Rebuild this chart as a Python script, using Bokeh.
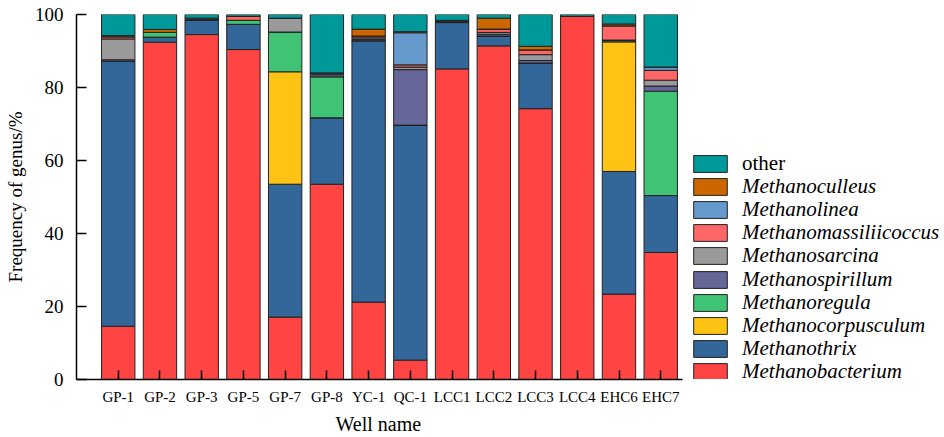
from bokeh.plotting import figure
from bokeh.models import ColumnDataSource, Range1d, FixedTicker, Legend, LegendItem, Title
from bokeh.embed import file_html
from bokeh.resources import INLINE

# Wells (x categories)
wells = ["GP-1", "GP-2", "GP-3", "GP-5", "GP-7", "GP-8", "YC-1", "QC-1",
         "LCC1", "LCC2", "LCC3", "LCC4", "EHC6", "EHC7"]

# Relative abundance of each genus per well (%), stacked bottom -> top
methanobacterium = [14.6, 92.4, 94.5, 90.4, 17.1, 53.5, 21.2, 5.3, 85.1, 91.4, 74.2, 99.5, 23.4, 34.8]
methanothrix = [72.6, 1.4, 4.1, 6.9, 36.4, 18.2, 71.6, 64.4, 12.7, 2.7, 12.5, 0.0, 33.6, 15.6]
methanocorpusculum = [0.0, 0.0, 0.0, 0.0, 30.8, 0.0, 0.0, 0.0, 0.0, 0.0, 0.0, 0.0, 35.5, 0.0]
methanoregula = [0.0, 1.3, 0.0, 1.1, 10.9, 11.2, 0.0, 0.0, 0.0, 0.0, 0.0, 0.0, 0.3, 28.6]
methanospirillum = [0.4, 0.0, 0.0, 0.0, 0.0, 0.6, 0.4, 15.2, 0.3, 0.5, 0.7, 0.0, 0.2, 1.4]
methanosarcina = [5.7, 0.0, 0.0, 0.0, 3.8, 0.5, 0.4, 0.7, 0.3, 0.5, 1.6, 0.0, 0.0, 1.6]
methanomassiliicoccus = [0.6, 0.0, 0.0, 1.1, 0.0, 0.0, 0.5, 0.6, 0.0, 0.9, 1.3, 0.0, 3.9, 2.7]
methanolinea = [0.0, 0.0, 0.0, 0.0, 0.0, 0.0, 0.0, 8.8, 0.0, 0.0, 0.0, 0.0, 0.0, 0.9]
methanoculleus = [0.3, 0.8, 0.4, 0.0, 0.0, 0.0, 1.9, 0.3, 0.0, 3.0, 1.0, 0.0, 0.5, 0.0]
other = [5.8, 4.1, 1.0, 0.5, 1.0, 16.0, 4.0, 4.7, 1.6, 1.0, 8.7, 0.5, 2.6, 14.4]

genera = ["Methanobacterium", "Methanothrix", "Methanocorpusculum", "Methanoregula",
          "Methanospirillum", "Methanosarcina", "Methanomassiliicoccus",
          "Methanolinea", "Methanoculleus", "other"]
series = [methanobacterium, methanothrix, methanocorpusculum, methanoregula,
          methanospirillum, methanosarcina, methanomassiliicoccus,
          methanolinea, methanoculleus, other]
colors = ["#FF4444", "#336699", "#FFC316", "#3EC474", "#666699", "#9A9A9A",
          "#FF6666", "#6699CC", "#CC6600", "#009999"]

xs = list(range(1, len(wells) + 1))
data = {"x": xs}
for g, s in zip(genera, series):
    data[g] = s
source = ColumnDataSource(data)

FONT = "Liberation Serif"
X_END = 14.53  # where the bottom axis line stops

p = figure(width=944, height=437, output_backend="svg", toolbar_location=None,
           x_range=Range1d(0, 20.8), y_range=Range1d(0, 100),
           min_border_left=76, min_border_right=0, min_border_top=14,
           min_border_bottom=57)
p.outline_line_color = None
p.grid.visible = False
p.background_fill_color = "white"
p.border_fill_color = "white"

renderers = p.vbar_stack(genera, x="x", width=0.8, source=source,
                         fill_color=colors, line_color="#222222", line_width=1)

# x axis: one tick per well, line stops after the last bar
xa = p.xaxis[0]
xa.ticker = FixedTicker(ticks=xs)
xa.major_label_overrides = {x: w for x, w in zip(xs, wells)}
xa.bounds = (0, X_END)
xa.major_tick_in = 9
xa.major_tick_out = 0
xa.minor_tick_line_color = None
xa.axis_line_width = 1.5
xa.major_tick_line_width = 1.5
xa.major_label_text_font = FONT
xa.major_label_text_font_size = "15px"
xa.major_label_text_color = "black"
xa.major_label_standoff = 9

# x axis title, placed under the middle of the bars
p.add_layout(Title(text="Well name", align="left", offset=259, standoff=6,
                   text_font=FONT, text_font_size="20px",
                   text_font_style="normal", text_color="black"), "below")

ya = p.yaxis[0]
ya.ticker = FixedTicker(ticks=[0, 20, 40, 60, 80, 100])
ya.major_tick_in = 10
ya.major_tick_out = 0
ya.minor_tick_line_color = None
ya.axis_line_width = 1.5
ya.major_tick_line_width = 1.5
ya.major_label_text_font = FONT
ya.major_label_text_font_size = "19px"
ya.major_label_text_color = "black"
ya.major_label_standoff = 13
ya.axis_label = "Frequency of genus/%"
ya.axis_label_text_font = FONT
ya.axis_label_text_font_style = "normal"
ya.axis_label_text_font_size = "19px"
ya.axis_label_text_color = "black"
ya.axis_label_standoff = 6

# Legend, top to bottom: one entry per row so the row pitch can be set exactly;
# "other" in roman type, genus names in italics
LEG_X = 613        # px from the frame's left edge
LEG_TOP = 228      # px from the frame's bottom edge to the top of the first row
ROW = 23.1         # row pitch, px
ITEM_H = 25        # height Bokeh gives one legend row at this font size

for i, (name, r) in enumerate(zip(reversed(genera), reversed(renderers))):
    style = "normal" if name == "other" else "italic"
    lg = Legend(items=[LegendItem(label=name, renderers=[r])],
                location=(LEG_X, LEG_TOP - ROW * i - ITEM_H),
                orientation="vertical",
                glyph_width=42, glyph_height=21, label_height=21,
                label_standoff=11, spacing=0, padding=0, margin=0,
                border_line_color=None, background_fill_alpha=0,
                label_text_font=FONT, label_text_font_size="21px",
                label_text_font_style=style, label_text_color="black")
    p.add_layout(lg)

open("out.html", "w").write(file_html(p, INLINE))
